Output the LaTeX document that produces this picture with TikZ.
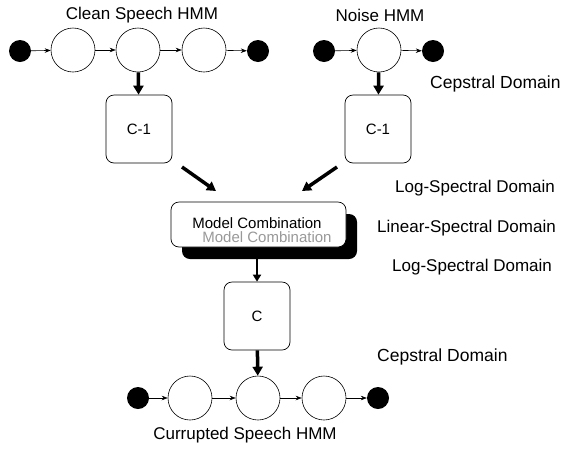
\documentclass[tikz,border=0pt]{standalone}
\usepackage{fontspec}
\setmainfont{Liberation Sans}
\usetikzlibrary{arrows.meta,shadows}
\begin{document}
\begin{tikzpicture}[x=1pt,y=-1pt,
  state/.style={circle,draw,line width=0.6pt,minimum size=44pt,inner sep=0pt},
  endst/.style={circle,fill=black,minimum size=22pt,inner sep=0pt},
  cbox/.style={draw,line width=0.7pt,rounded corners=8pt,minimum width=66pt,minimum height=68pt,inner sep=0pt,font=\fontsize{15}{17}\selectfont},
  lbl/.style={font=\fontsize{17}{20}\selectfont,inner sep=0pt},
  dlbl/.style={font=\fontsize{17.5}{20}\selectfont,inner sep=0pt,anchor=west},
  tarr/.style={line width=0.6pt,-{Stealth[length=6pt,width=4.5pt]}},
  barr/.style={line width=3.5pt,-{Triangle[length=9pt,width=10pt]}}]
\useasboundingbox (0,0) rectangle (569,448);
% clean speech HMM
\node[endst] (a0) at (20,51) {};
\node[state] (a1) at (73,50) {};
\node[state] (a2) at (138,50) {};
\node[state] (a3) at (204,50) {};
\node[endst] (a4) at (258,51) {};
\node[lbl] (tclean) at (142,15) {Clean Speech HMM};
\draw[tarr] (a0) -- (a1);
\draw[tarr] (a1) -- (a2);
\draw[tarr] (a2) -- (a3);
\draw[tarr] (a3) -- (a4);
% noise HMM
\node[endst] (n0) at (324,51) {};
\node[state] (n1) at (379,50) {};
\node[endst] (n2) at (433,51) {};
\node[lbl] (tnoise) at (380,15) {Noise HMM};
\draw[tarr] (n0) -- (n1);
\draw[tarr] (n1) -- (n2);
% C-1 boxes
\node[cbox] (cl) at (139,129) {C-1};
\node[cbox] (cr) at (378,129) {C-1};
\draw[barr] (a2) -- (cl);
\draw[barr] (n1) -- (cr);
% model combination
\fill[rounded corners=8pt] (182,214) rectangle (357,259);
\node[draw,fill=white,line width=0.7pt,rounded corners=8pt,minimum width=175pt,minimum height=45pt,inner sep=0pt] (mc) at (258.5,224.5) {};
\node[font=\fontsize{15}{17}\selectfont,text=black!40,inner sep=0pt] (mcg) at (267,237) {Model Combination};
\node[font=\fontsize{15}{17}\selectfont,inner sep=0pt] (mct) at (257,223) {Model Combination};
\coordinate (l1) at (182,167);
\coordinate (l2) at (216,191);
\coordinate (r1) at (337,167);
\coordinate (r2) at (302,191);
\draw[barr] (l1) -- (l2);
\draw[barr] (r1) -- (r2);
% C box
\node[cbox] (cc) at (257,316) {C};
\coordinate (mcb) at (257,259);
\draw[line width=2.5pt,-{Triangle[length=7pt,width=8pt]}] (mcb) -- (cc);
% corrupted HMM
\node[endst] (b0) at (138,398) {};
\node[state] (b1) at (190,398) {};
\node[state] (b2) at (258,398) {};
\node[state] (b3) at (324,398) {};
\node[endst] (b4) at (378,398) {};
\draw[tarr] (b0) -- (b1);
\draw[tarr] (b1) -- (b2);
\draw[tarr] (b2) -- (b3);
\draw[tarr] (b3) -- (b4);
\draw[barr] (cc) -- (b2);
\node[lbl] (tcorr) at (245,435) {Currupted Speech HMM};
% domain labels
\node[dlbl] (d1) at (430,84) {Cepstral Domain};
\node[lbl,anchor=west] (d2) at (395,188) {Log-Spectral Domain};
\node[lbl,anchor=west] (d3) at (377,228) {Linear-Spectral Domain};
\node[lbl,anchor=west] (d4) at (392,267) {Log-Spectral Domain};
\node[dlbl] (d5) at (377,357) {Cepstral Domain};
\end{tikzpicture}
\end{document}
